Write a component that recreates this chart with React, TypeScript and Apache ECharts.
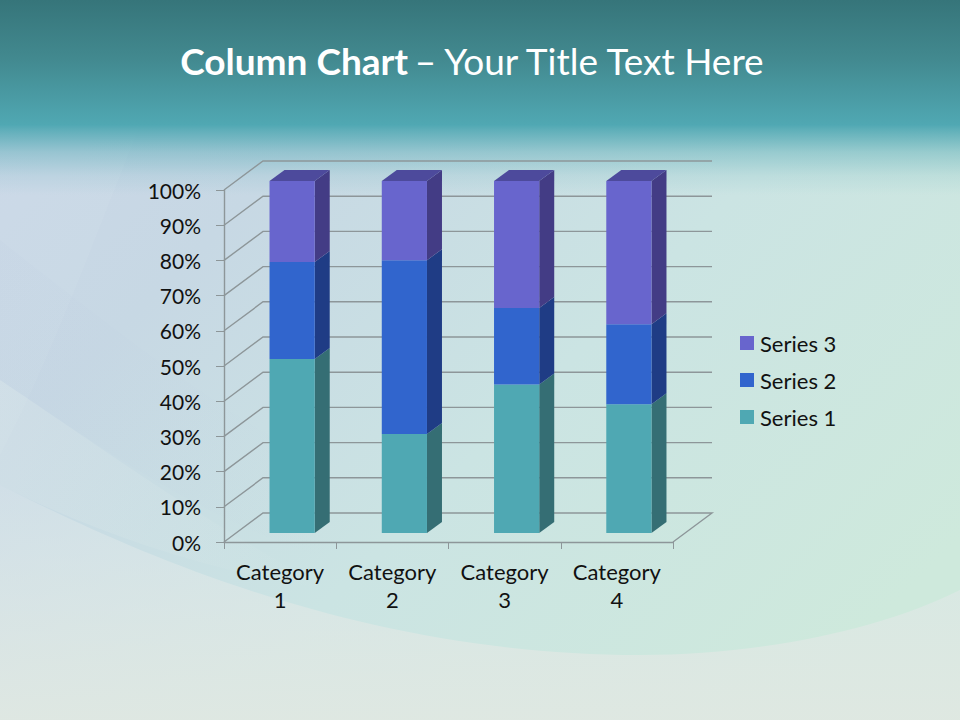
import React, { useEffect, useRef } from "react";
import * as echarts from "echarts";

const categories = ["Category 1", "Category 2", "Category 3", "Category 4"];
const series1 = [49.4, 28.1, 42.2, 36.6];
const series2 = [27.6, 49.4, 21.7, 22.7];
const series3 = [23.0, 22.5, 36.1, 40.7];
const wallTicks = [0, 10, 20, 30, 40, 50, 60, 70, 80, 90, 100];
const legendOrder = ["Series 3", "Series 2", "Series 1"];

const FONT = "Lato, Carlito, Calibri, sans-serif";

echarts.graphic.registerShape(
  "bgLower",
  echarts.graphic.extendPath(
    "M0 485 C120 545 350 655 640 655 C760 655 880 630 960 590 L960 720 L0 720 Z",
    {}
  )
);
echarts.graphic.registerShape(
  "bgLeftWedge",
  echarts.graphic.extendPath("M140 125 C90 250 50 360 0 455 L0 125 Z", {})
);
echarts.graphic.registerShape(
  "bgBandA",
  echarts.graphic.extendPath("M0 240 C90 310 200 400 330 470 L330 560 C200 520 90 440 0 380 Z", {})
);
echarts.graphic.registerShape(
  "bgBandB",
  echarts.graphic.extendPath("M0 380 C90 440 200 520 330 590 C200 570 90 530 0 485 Z", {})
);

function wallRender(params: any, api: any) {
  const cs = params.coordSys;
  const left = cs.x;
  const right = cs.x + cs.width;
  const v = api.value(1);
  const y = api.coord([0, v])[1];
  const dx = 39;
  const dy = 29;
  const points: number[][] = [
    [left, y],
    [left + dx, y - dy],
    [right + dx, y - dy],
  ];
  if (v === 0) points.push([right, y]);
  return {
    type: "polyline",
    shape: { points },
    style: { stroke: "#8d9699", lineWidth: 1.4, fill: "none" },
  };
}

function barRender(values: number[], below: number[][], colors: string[], top: boolean) {
  return (params: any, api: any) => {
    const idx = params.dataIndex;
    const base = below.reduce((s, arr) => s + arr[idx], 0);
    const c0 = api.coord([idx, base]);
    const c1 = api.coord([idx, base + values[idx]]);
    const x0 = c0[0] - 10.6;
    const x1 = c0[0] + 34.6;
    const yb = c0[1] - 9;
    const yt = c1[1] - 9;
    const sx = 15;
    const sy = 11;
    const children: any[] = [
      {
        type: "polygon",
        shape: { points: [[x1, yb], [x1 + sx, yb - sy], [x1 + sx, yt - sy], [x1, yt]] },
        style: { fill: colors[1] },
      },
      {
        type: "rect",
        shape: { x: x0, y: yt, width: x1 - x0, height: yb - yt },
        style: { fill: colors[0] },
      },
    ];
    if (top) {
      children.push({
        type: "polygon",
        shape: { points: [[x0, yt], [x0 + sx, yt - sy], [x1 + sx, yt - sy], [x1, yt]] },
        style: { fill: colors[2] },
      });
    }
    return { type: "group", children };
  };
}

function barSeries(name: string, values: number[], below: number[][], colors: string[], top: boolean) {
  return {
    name,
    type: "custom",
    silent: true,
    z: 3,
    itemStyle: { color: colors[0] },
    encode: { x: 0, y: 1 },
    data: values.map((v, i) => [i, v]),
    renderItem: barRender(values, below, colors, top),
  };
}

function fadeRight(color: string, a: number) {
  return {
    type: "linear", x: 0, y: 0, x2: 1, y2: 0,
    colorStops: [
      { offset: 0, color: `rgba(${color},${a})` },
      { offset: 1, color: `rgba(${color},0)` },
    ],
  };
}

export default function App() {
  const ref = useRef<HTMLDivElement>(null);
  useEffect(() => {
    document.body.style.margin = "0";
    const chart = echarts.init(ref.current!, undefined, { renderer: "svg" });
    chart.setOption({
      animation: false,
      backgroundColor: {
        type: "linear", x: 0, y: 0, x2: 1, y2: 0.75,
        colorStops: [
          { offset: 0, color: "#cbd6e8" },
          { offset: 0.3, color: "#c7d8e4" },
          { offset: 0.62, color: "#cbe4e3" },
          { offset: 1, color: "#cee9dc" },
        ],
      },
      textStyle: { fontFamily: FONT },
      title: {
        left: 468,
        top: 37,
        textAlign: "center",
        text: "{b|Column Chart} {n|– Your Title Text Here}",
        textStyle: {
          rich: {
            b: { fontFamily: FONT, fontWeight: "bold", fontSize: 37, color: "#ffffff" },
            n: { fontFamily: FONT, fontWeight: "normal", fontSize: 37, color: "#ffffff" },
          },
        },
      },
      graphic: {
        elements: [
          { type: "bgLeftWedge", x: 0, y: 0, z: -20, silent: true, style: { fill: "rgba(255,255,255,0.05)" } },
          { type: "bgBandA", x: 0, y: 0, z: -20, silent: true, style: { fill: fadeRight("185,200,222", 0.1) } },
          { type: "bgBandB", x: 0, y: 0, z: -20, silent: true, style: { fill: fadeRight("228,238,236", 0.25) } },
          {
            type: "bgLower", x: 0, y: 0, z: -19, silent: true,
            style: {
              fill: {
                type: "linear", x: 0, y: 0, x2: 0, y2: 1,
                colorStops: [
                  { offset: 0, color: "rgba(222,232,236,0.4)" },
                  { offset: 0.7, color: "rgba(224,232,228,0.75)" },
                  { offset: 1, color: "rgba(224,232,226,0.92)" },
                ],
              },
            },
          },
          {
            type: "rect", x: 0, y: 0, z: -10, silent: true,
            shape: { x: 0, y: 0, width: 960, height: 195 },
            style: {
              fill: {
                type: "linear", x: 0, y: 0, x2: 0, y2: 1,
                colorStops: [
                  { offset: 0, color: "#36757a" },
                  { offset: 0.3, color: "#42898f" },
                  { offset: 0.64, color: "#50a8b3" },
                  { offset: 0.665, color: "rgba(80,168,179,0.88)" },
                  { offset: 0.78, color: "rgba(80,168,179,0.42)" },
                  { offset: 0.9, color: "rgba(80,168,179,0.12)" },
                  { offset: 1, color: "rgba(80,168,179,0)" },
                ],
              },
            },
          },
        ],
      },
      legend: {
        orient: "vertical",
        left: 740,
        top: 332,
        padding: 0,
        itemWidth: 14,
        itemHeight: 14,
        itemGap: 15,
        icon: "rect",
        selectedMode: false,
        data: legendOrder,
        textStyle: { fontFamily: FONT, fontSize: 22, color: "#111111", padding: [0, 0, 0, 1] },
      },
      grid: { left: 224, right: 287, top: 190, bottom: 178 },
      xAxis: {
        type: "category",
        data: categories,
        boundaryGap: true,
        axisLine: { lineStyle: { color: "#8d9699", width: 1.4 } },
        axisTick: { show: true, length: 7, alignWithLabel: false, lineStyle: { color: "#8d9699", width: 1 } },
        axisLabel: {
          interval: 0,
          margin: 15,
          fontFamily: FONT,
          fontSize: 22,
          lineHeight: 28,
          color: "#111111",
          formatter: (v: string) => v.replace(" ", "\n"),
        },
      },
      yAxis: {
        type: "value",
        min: 0,
        max: 100,
        interval: 10,
        splitLine: { show: false },
        axisLine: { show: true, lineStyle: { color: "#8d9699", width: 1.4 } },
        axisTick: { show: true, length: 8, lineStyle: { color: "#8d9699", width: 1 } },
        axisLabel: {
          margin: 23,
          fontFamily: FONT,
          fontSize: 21,
          color: "#111111",
          formatter: "{value}%",
        },
      },
      series: [
        {
          type: "custom",
          silent: true,
          z: 1,
          encode: { x: 0, y: 1 },
          data: wallTicks.map((t) => [0, t]),
          renderItem: wallRender,
        },
        barSeries("Series 1", series1, [], ["#4fa8b3", "#356e74"], false),
        barSeries("Series 2", series2, [series1], ["#3165cd", "#1f3c85"], false),
        barSeries("Series 3", series3, [series1, series2], ["#6865cd", "#433c85", "#4d4a9c"], true),
      ],
    });
    return () => chart.dispose();
  }, []);
  return <div ref={ref} style={{ width: 960, height: 720 }} />;
}
